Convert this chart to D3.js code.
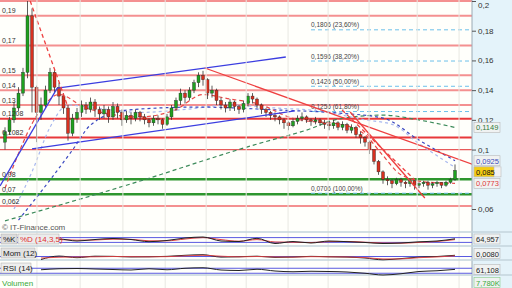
<!DOCTYPE html>
<html>
<head>
<meta charset="utf-8">
<script src="https://cdn.jsdelivr.net/npm/d3@7"></script>
<style>
body { margin: 0; background: #fff; }
svg { display: block; font-family: "Liberation Sans", Arial, sans-serif; }
</style>
</head>
<body>
<svg id="chart" width="512" height="288"></svg>
<script>
// candles: open = previous close
const firstOpen = 0.105;
const closes = [0.112,0.12,0.128,0.138,0.152,0.19,0.142,0.125,0.13,0.14,
  0.152,0.142,0.136,0.128,0.111,0.121,0.125,0.13,0.127,0.132,
  0.127,0.124,0.127,0.122,0.129,0.125,0.12,0.123,0.121,0.125,
  0.122,0.12,0.118,0.121,0.12,0.117,0.122,0.128,0.133,0.138,
  0.135,0.14,0.145,0.15,0.147,0.138,0.14,0.133,0.13,0.128,
  0.132,0.129,0.127,0.131,0.136,0.134,0.13,0.127,0.125,0.123,
  0.122,0.12,0.118,0.116,0.119,0.121,0.122,0.12,0.119,0.12,
  0.118,0.117,0.116,0.118,0.115,0.117,0.113,0.115,0.11,0.108,
  0.105,0.1,0.092,0.085,0.08,0.079,0.077,0.08,0.078,0.077,
  0.079,0.076,0.077,0.078,0.076,0.077,0.078,0.076,0.078,0.08,0.086];
const highs = [0.115,0.122,0.132,0.142,0.155,0.2,0.195,0.143,0.135,0.143,
  0.155,0.154,0.145,0.138,0.13,0.124,0.128,0.133,0.132,0.135,
  0.134,0.129,0.13,0.129,0.132,0.131,0.127,0.126,0.125,0.127,
  0.126,0.124,0.121,0.123,0.123,0.121,0.124,0.13,0.135,0.141,
  0.14,0.142,0.147,0.152,0.153,0.148,0.143,0.141,0.135,0.132,
  0.134,0.133,0.13,0.133,0.138,0.138,0.135,0.131,0.128,0.126,
  0.125,0.123,0.121,0.119,0.121,0.123,0.125,0.123,0.121,0.122,
  0.121,0.12,0.119,0.12,0.119,0.119,0.118,0.117,0.116,0.112,
  0.109,0.106,0.1,0.093,0.086,0.082,0.08,0.081,0.081,0.079,
  0.08,0.08,0.078,0.079,0.079,0.078,0.079,0.078,0.079,0.081,0.09];
const lows = [0.1,0.11,0.118,0.126,0.136,0.148,0.125,0.105,0.12,0.128,
  0.138,0.138,0.13,0.124,0.106,0.109,0.118,0.122,0.124,0.125,
  0.122,0.12,0.121,0.118,0.12,0.121,0.116,0.118,0.117,0.119,
  0.119,0.117,0.115,0.116,0.117,0.114,0.116,0.12,0.126,0.13,
  0.131,0.133,0.138,0.142,0.143,0.134,0.135,0.13,0.127,0.125,
  0.126,0.126,0.124,0.125,0.129,0.131,0.128,0.124,0.122,0.12,
  0.119,0.117,0.114,0.113,0.115,0.117,0.119,0.118,0.116,0.117,
  0.116,0.114,0.113,0.114,0.113,0.113,0.111,0.111,0.108,0.104,
  0.102,0.097,0.09,0.083,0.077,0.076,0.074,0.076,0.075,0.074,
  0.075,0.073,0.074,0.075,0.073,0.074,0.075,0.074,0.075,0.077,0.079];

// horizontal levels
const redLevels = [0.2, 0.19, 0.17, 0.15, 0.14, 0.13, 0.1208, 0.1082, 0.1, 0.062];
const greenLevels = [0.08, 0.07];
const levelLabels = [0.19, 0.17, 0.15, 0.14, 0.13, 0.1208, 0.1082, 0.08, 0.07, 0.062];
const rightTicks = [0.2, 0.18, 0.16, 0.14, 0.12, 0.1, 0.06];

// fibonacci retracement
const fibStart = 68;
const fibValues = [0.1806, 0.1596, 0.1426, 0.1256, 0.0706];
const fibPcts = ['23,60%', '38,20%', '50,00%', '61,80%', '100,00%'];

// trend lines [i0, v0, i1, v1]
const blueLines = [[-1.1, 0.0755, 11.6, 0.1414], [6, 0.1004, 64.4, 0.126], [11.6, 0.1414, 62.4, 0.1623]];
const redLines = [[44.4, 0.1549, 103.8, 0.0902], [76.7, 0.1253, 93.3, 0.0674]];
const redDashLines = [[5.6, 0.2, 14, 0.1286], [74.9, 0.1266, 91.1, 0.0795]];

// moving averages
const greenMaIdx = [0, 27, 56, 67, 74, 84, 92, 100];
const greenMaVal = [0.052, 0.076, 0.1037, 0.1131, 0.1205, 0.1232, 0.1199, 0.1149];
const blueMaIdx = [3, 10, 15, 19, 27, 43, 61, 74, 84, 92, 100];
const blueMaVal = [0.0525, 0.0795, 0.0997, 0.1165, 0.1266, 0.1286, 0.1266, 0.1246, 0.1212, 0.1064, 0.0925];
const lightMaIdx = [2, 6, 10, 14, 20, 30, 40, 50, 60, 70, 80, 86, 92, 100];
const lightMaVal = [0.06, 0.085, 0.115, 0.13, 0.128, 0.125, 0.127, 0.13, 0.128, 0.126, 0.12, 0.117, 0.104, 0.088];
const redMaIdx = [0, 8, 12, 18, 30, 38, 44, 50, 56, 64, 76, 80, 84, 88, 94, 100];
const redMaVal = [0.074, 0.127, 0.137, 0.128, 0.122, 0.127, 0.137, 0.134, 0.131, 0.121, 0.116, 0.11, 0.096, 0.083, 0.078, 0.0773];

// last value tags
const tagValues = [0.1149, 0.0925, 0.085, 0.0773];

// month grid (candle index)
const gridIdx = [7.1, 16.7, 26.2, 35.6, 44.7, 53.6, 62.9, 71.8, 80.9, 91.6, 100.9];

// indicators
const indIdx = [8,12,16,20,24,28,32,36,40,44,48,52,56,60,64,68,72,76,80,84,88,92,96,100];
const stochK = [50,62.5,37.5,56,69,56,29,44,75,87.5,37.5,31,71,6,31,12.5,37.5,29,19,6,12.5,27.5,37.5,65];
const stochD = [50,55,48,50,60,58,40,40,62,80,55,35,55,25,22,18,30,32,22,12,10,20,32,55];
const momVal = [-0.02,0.003,-0.008,0.002,0.001,-0.003,-0.002,0.001,0.008,0.012,-0.004,-0.002,0.002,-0.006,-0.004,0.001,-0.002,-0.004,-0.01,-0.022,-0.014,-0.004,0,0.008];
const momSig = [-0.01,-0.005,-0.003,-0.002,0,-0.001,-0.002,-0.001,0.004,0.008,0.002,-0.002,0,-0.003,-0.004,-0.001,-0.002,-0.003,-0.007,-0.016,-0.016,-0.008,-0.003,0.004];
const rsiVal = [58,66,68,64,60,56,66,58,70,74,56,52,62,48,42,46,44,40,30,16,26,44,50,61];
const indTags = ['64,957', '0,0080', '61,108', '7,780K'];

const W = 512, H = 288, plotRight = 472, mainBottom = 232;
const fmt = d3.formatLocale({ decimal: ',', thousands: '.', grouping: [3], currency: ['', ''] }).format('.4~f');
const fmt4 = d3.formatLocale({ decimal: ',', thousands: '.', grouping: [3], currency: ['', ''] }).format('.4f');

const svg = d3.select('#chart');
const x = d3.scaleLinear().domain([0, 100]).range([5, 455]);
const y = d3.scaleLinear().domain([0.06, 0.2]).range([209, 1]);

svg.append('rect').attr('width', W).attr('height', H).attr('fill', '#fffffb');
svg.append('rect').attr('x', plotRight).attr('width', W - plotRight).attr('height', H).attr('fill', '#e4f3fa');

svg.append('clipPath').attr('id', 'clip-main')
  .append('rect').attr('width', plotRight).attr('height', mainBottom);
const main = svg.append('g').attr('clip-path', 'url(#clip-main)');

// vertical grid
svg.append('g').selectAll('line').data(gridIdx).join('line')
  .attr('x1', (d) => x(d)).attr('x2', (d) => x(d))
  .attr('y1', 0).attr('y2', H)
  .attr('stroke', '#e8e8e2').attr('stroke-width', 1);

// level lines
const strong = [0.1208, 0.1082];
main.append('g').selectAll('line').data(redLevels).join('line')
  .attr('x1', 0).attr('x2', plotRight)
  .attr('y1', (d) => y(d)).attr('y2', (d) => y(d))
  .attr('stroke', (d) => strong.includes(d) ? '#e8383a' : (d === 0.1 ? '#e85a5a' : '#f49090'))
  .attr('stroke-width', (d) => d === 0.1 ? 1.2 : 2);

main.append('g').selectAll('line').data(greenLevels).join('line')
  .attr('x1', 0).attr('x2', plotRight)
  .attr('y1', (d) => y(d)).attr('y2', (d) => y(d))
  .attr('stroke', '#2e962e').attr('stroke-width', 2.5);

// fib lines
main.append('g').selectAll('line').data(fibValues).join('line')
  .attr('x1', x(fibStart)).attr('x2', plotRight)
  .attr('y1', (d) => y(d)).attr('y2', (d) => y(d))
  .attr('stroke', '#6cc0ea').attr('stroke-width', 1).attr('stroke-dasharray', '4,3');

main.append('g').selectAll('text').data(fibValues).join('text')
  .attr('x', x(fibStart)).attr('y', (d) => y(d) - 2.5)
  .attr('font-size', 6.5).attr('fill', '#444')
  .text((d, i) => `${fmt4(d)} (${fibPcts[i]})`);

// moving averages
const maLine = (idx) => d3.line().x((d, i) => x(idx[i])).y((d) => y(d)).curve(d3.curveMonotoneX);
const mas = [
  [greenMaIdx, greenMaVal, '#3c8a5a', '4,3', 1.2],
  [lightMaIdx, lightMaVal, '#a8b8ee', '3,3', 1.2],
  [blueMaIdx, blueMaVal, '#3a48c0', '3,3', 1.2],
  [redMaIdx, redMaVal, '#e84848', '4,3', 1.2],
];
mas.forEach(([idx, val, color, dash, w]) => {
  main.append('path').datum(val)
    .attr('d', maLine(idx))
    .attr('fill', 'none').attr('stroke', color)
    .attr('stroke-width', w).attr('stroke-dasharray', dash);
});

// candles
const candles = closes.map((c, i) => ({
  i, c, o: i === 0 ? firstOpen : closes[i - 1], h: highs[i], l: lows[i],
}));
const cg = main.append('g');
cg.selectAll('line').data(candles).join('line')
  .attr('x1', (d) => x(d.i)).attr('x2', (d) => x(d.i))
  .attr('y1', (d) => y(Math.max(d.h, d.o, d.c))).attr('y2', (d) => y(Math.min(d.l, d.o, d.c)))
  .attr('stroke', '#333').attr('stroke-width', 0.8);
cg.selectAll('rect').data(candles).join('rect')
  .attr('x', (d) => x(d.i) - 1.5).attr('width', 3)
  .attr('y', (d) => y(Math.max(d.o, d.c)))
  .attr('height', (d) => Math.max(1, y(Math.min(d.o, d.c)) - y(Math.max(d.o, d.c))))
  .attr('fill', (d) => d.c >= d.o ? '#1fa01f' : '#d8301f')
  .attr('stroke', '#2a2a2a').attr('stroke-width', 0.4);

// trend lines
const seg = (g, data, color, dash, w) => g.append('g').selectAll('line').data(data).join('line')
  .attr('x1', (d) => x(d[0])).attr('y1', (d) => y(d[1]))
  .attr('x2', (d) => x(d[2])).attr('y2', (d) => y(d[3]))
  .attr('stroke', color).attr('stroke-width', w)
  .attr('stroke-dasharray', dash);
seg(main, blueLines, '#3c3ee0', null, 1.3);
seg(main, redLines, '#ee4040', null, 1.3);
seg(main, redDashLines, '#ee4040', '4,3', 1.3);

// left level labels
main.append('g').selectAll('text').data(levelLabels).join('text')
  .attr('x', 2).attr('y', (d) => y(d) - 2.5)
  .attr('font-size', 7).attr('fill', '#333')
  .text((d) => fmt(d));

main.append('text').attr('x', 2).attr('y', 230)
  .attr('font-size', 8).attr('fill', '#555')
  .text('© IT-Finance.com');

// right axis
svg.append('line').attr('x1', plotRight).attr('x2', plotRight).attr('y1', 0).attr('y2', H)
  .attr('stroke', '#9aaab4');
const axis = svg.append('g').attr('transform', `translate(${plotRight},0)`)
  .call(d3.axisRight(y).tickValues(rightTicks).tickFormat(fmt).tickSize(4).tickPadding(2));
axis.select('.domain').remove();
axis.selectAll('line').attr('stroke', '#555');
axis.selectAll('text').attr('font-size', 8).attr('fill', '#333').attr('font-family', '"Liberation Sans", Arial, sans-serif');
axis.selectAll('.tick').filter((d) => d === 0.2).select('text').attr('dy', '0.85em');

// value tags
const tagColors = ['#2f7a3a', '#3a4ab8', '#111', '#e03a3a'];
const tg = svg.append('g');
tagValues.forEach((v, i) => {
  const cy = y(v);
  if (i === 2) {
    tg.append('rect').attr('x', 474).attr('y', cy - 5).attr('width', 27).attr('height', 10)
      .attr('fill', '#f2f2f2').attr('stroke', '#bbb').attr('stroke-width', 0.6);
  }
  tg.append('rect').attr('x', 474).attr('y', cy - 5).attr('width', i === 2 ? 20 : 26).attr('height', 10)
    .attr('fill', i === 2 ? '#f4cc10' : '#f0f2f2').attr('stroke', '#b8b8b8').attr('stroke-width', 0.6);
  tg.append('text').attr('x', 476).attr('y', cy + 3)
    .attr('font-size', 7.5).attr('fill', tagColors[i]).text(fmt(v));
});

// indicator panels
const panels = [
  { top: 232, bottom: 246 },
  { top: 246, bottom: 260 },
  { top: 260, bottom: 275 },
  { top: 275, bottom: 290 },
];
panels.forEach((p) => {
  svg.append('line').attr('x1', 0).attr('x2', W).attr('y1', p.top).attr('y2', p.top)
    .attr('stroke', '#c4d4dc').attr('stroke-width', 1.5);
});

const ySto = d3.scaleLinear().domain([0, 100]).range([244, 236]);
const yMom = d3.scaleLinear().domain([-0.03, 0.03]).range([261, 252]);
const yRsi = d3.scaleLinear().domain([0, 100]).range([277, 264.5]);

const hl = (vals, sc) => svg.append('g').selectAll('line').data(vals).join('line')
  .attr('x1', 0).attr('x2', plotRight)
  .attr('y1', (d) => sc(d)).attr('y2', (d) => sc(d))
  .attr('stroke', '#5a5ae0').attr('stroke-width', 1);
hl([80, 20], ySto);
hl([0], yMom);
hl([70, 30], yRsi);

const indLine = (vals, sc, color, w) => svg.append('path').datum(vals)
  .attr('d', d3.line().x((d, i) => x(indIdx[i])).y((d) => sc(d)).curve(d3.curveMonotoneX))
  .attr('fill', 'none').attr('stroke', color).attr('stroke-width', w);
indLine(stochD, ySto, '#e04040', 1);
indLine(stochK, ySto, '#222', 1);
indLine(momVal, yMom, '#222', 1);
indLine(momSig, yMom, '#e04040', 0.9);
indLine(rsiVal, yRsi, '#222', 1);

// panel labels
const lab = (x0, y0, w, txt, color, bg) => {
  svg.append('rect').attr('x', x0).attr('y', y0).attr('width', w).attr('height', 10)
    .attr('fill', bg).attr('stroke', '#aaa').attr('stroke-width', 0.5);
  svg.append('text').attr('x', x0 + 2).attr('y', y0 + 8)
    .attr('font-size', 8).attr('fill', color).text(txt);
};
lab(1, 234, 16, '%K', '#222', '#dcdcdc');
lab(18, 234, 41, '%D (14,3,5)', '#e03030', '#ececec');
lab(1, 248, 34, 'Mom (12)', '#222', '#e2e2e2');
lab(1, 263, 30, 'RSI (14)', '#222', '#eeeeee');
svg.append('text').attr('x', 2).attr('y', 286).attr('font-size', 8).attr('fill', '#3aaa3a').text('Volumen');

const indTagY = [239, 253.5, 269.5, 282.5];
indTags.forEach((t, i) => {
  svg.append('rect').attr('x', 474).attr('y', indTagY[i] - 5).attr('width', 26).attr('height', 10)
    .attr('fill', '#f0f2f2').attr('stroke', i === 3 ? '#8c8' : '#b8b8b8').attr('stroke-width', 0.6);
  svg.append('text').attr('x', 476).attr('y', indTagY[i] + 3)
    .attr('font-size', 7.5).attr('fill', i === 3 ? '#3aaa3a' : '#222').text(t);
});
</script>
</body>
</html>
